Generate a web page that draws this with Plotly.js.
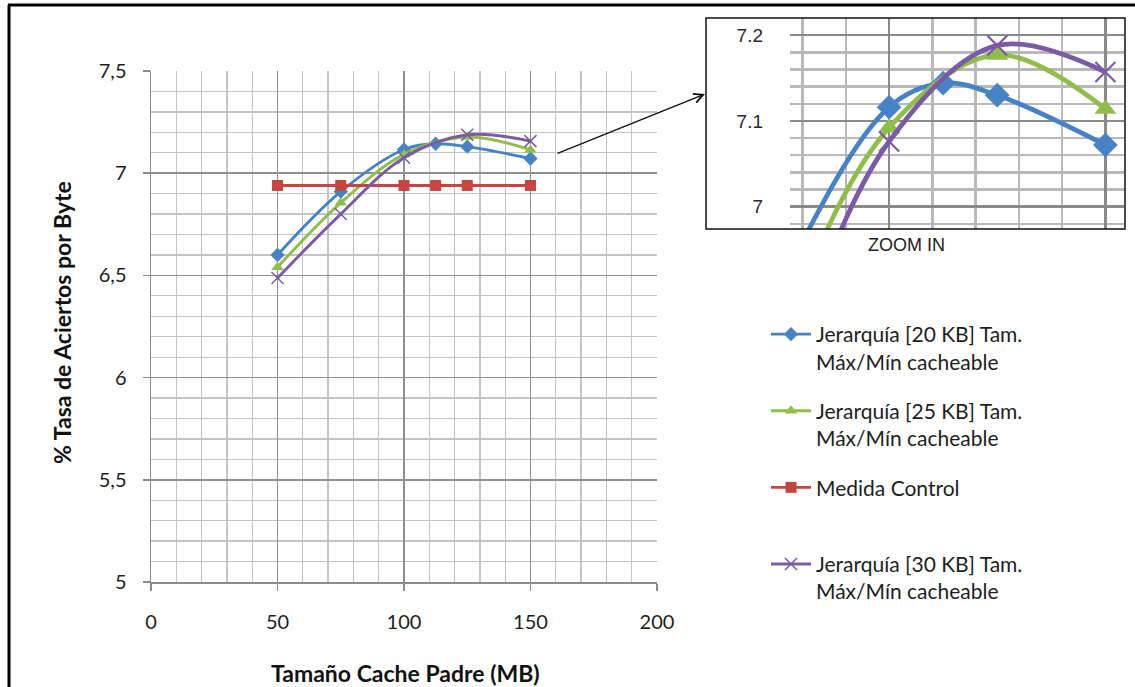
<!DOCTYPE html>
<html>
<head>
<meta charset="utf-8">
<script src="https://cdn.plot.ly/plotly-3.0.1.min.js"></script>
<style>
  html, body { margin: 0; padding: 0; background: #ffffff; }
  #chart { width: 1135px; height: 687px; }
</style>
</head>
<body>
<div id="chart"></div>
<script>
// Cache size of the parent proxy (MB)
const cacheMB = [50, 75, 100, 112.5, 125, 150];
const cacheMB5 = [50, 75, 100, 125, 150];

// Byte hit rate (%) per configuration
const hit20KB = [6.60, 6.91, 7.116, 7.144, 7.130, 7.072];
const hit25KB = [6.54, 6.855, 7.092, 7.177, 7.114];
const hitControl = [6.94, 6.94, 6.94, 6.94, 6.94, 6.94];
const hit30KB = [6.487, 6.80, 7.076, 7.188, 7.157];

const seriesNames = [
  'Jerarquía [20 KB] Tam.<br>Máx/Mín cacheable',
  'Jerarquía [25 KB] Tam.<br>Máx/Mín cacheable',
  'Medida Control<br> ',
  'Jerarquía [30 KB] Tam.<br>Máx/Mín cacheable'
];

// Tick labels
const xTickVals = [0, 50, 100, 150, 200];
const yTickVals = [5, 5.5, 6, 6.5, 7, 7.5];
const yTickText = ['5', '5,5', '6', '6,5', '7', '7,5'];
const zoomTickVals = [7, 7.1, 7.2];
const zoomTickText = ['7', '7.1', '7.2'];

const W = 1135, H = 687;
const px = v => v / W;          // pixel -> paper x
const py = v => 1 - v / H;      // pixel -> paper y

const BLUE = '#4683c6', GREEN = '#8fbf4a', RED = '#c4463f', PURPLE = '#7d5aa6';
const FONT = 'Lato, "Open Sans", sans-serif';
const ARIAL = '"Liberation Sans", Arial, sans-serif';

function series(x, y, name, color, symbol, axes, big) {
  const isX = symbol === 'x-thin-open';
  return {
    type: 'scatter', mode: 'lines+markers',
    x: x, y: y, name: name,
    xaxis: axes[0], yaxis: axes[1],
    showlegend: !big, legendgroup: name,
    line: { color: color, width: big ? 4.8 : 2.9, shape: color === RED ? 'linear' : 'spline', smoothing: 1 },
    marker: {
      symbol: symbol, color: color,
      size: big ? (isX ? 20 : 19) : (isX ? 12 : 11),
      line: { color: color, width: isX ? (big ? 2.2 : 1.5) : 0 }
    },
    cliponaxis: true, hoverinfo: 'skip'
  };
}

const data = [];
[['x', 'y', false], ['x2', 'y2', true]].forEach(([xa, ya, big]) => {
  data.push(series(cacheMB, hit20KB, seriesNames[0], BLUE, 'diamond', [xa, ya], big));
  data.push(series(cacheMB5, hit25KB, seriesNames[1], GREEN, 'triangle-up', [xa, ya], big));
  data.push(series(cacheMB, hitControl, seriesNames[2], RED, 'square', [xa, ya], big));
  data.push(series(cacheMB5, hit30KB, seriesNames[3], PURPLE, 'x-thin-open', [xa, ya], big));
});

const layout = {
  width: W, height: H,
  margin: { l: 0, r: 0, t: 0, b: 0 },
  paper_bgcolor: '#ffffff', plot_bgcolor: '#ffffff',
  font: { family: FONT, size: 20, color: '#1e1e1e' },
  showlegend: true,
  legend: {
    x: px(766), y: py(314), xanchor: 'left', yanchor: 'top',
    font: { family: FONT, size: 21, color: '#1e1e1e' },
    valign: 'top', tracegroupgap: 19, itemwidth: 40,
    bgcolor: 'rgba(0,0,0,0)'
  },
  xaxis: {
    domain: [px(151), px(657)], range: [0, 200], anchor: 'y',
    tickmode: 'array', tickvals: xTickVals,
    showgrid: true, gridcolor: '#8f8f8f', gridwidth: 1.5,
    minor: { dtick: 10, showgrid: true, gridcolor: '#c4c4c4', gridwidth: 1.3 },
    showline: true, linecolor: '#8a8a8a', linewidth: 1.5,
    ticks: 'outside', ticklen: 7, tickcolor: '#8a8a8a', tickwidth: 1.5,
    ticklabelstandoff: 14, zeroline: false,
    tickfont: { family: FONT, size: 20, color: '#1e1e1e' }
  },
  yaxis: {
    domain: [py(582), py(71)], range: [5, 7.5], anchor: 'x',
    tickmode: 'array', tickvals: yTickVals, ticktext: yTickText,
    showgrid: true, gridcolor: '#8f8f8f', gridwidth: 1.5,
    minor: { dtick: 0.1, showgrid: true, gridcolor: '#c4c4c4', gridwidth: 1.3 },
    showline: true, linecolor: '#8a8a8a', linewidth: 1.5,
    ticks: 'outside', ticklen: 7, tickcolor: '#8a8a8a', tickwidth: 1.5,
    ticklabelstandoff: 12, zeroline: false,
    tickfont: { family: FONT, size: 20, color: '#1e1e1e' }
  },
  // magnified view of the peak region
  xaxis2: {
    domain: [px(790), px(1124)], range: [77.1, 154.3], anchor: 'y2',
    tickmode: 'linear', tick0: 0, dtick: 50, showticklabels: false, ticks: '',
    showgrid: true, gridcolor: '#8a8a8a', gridwidth: 2.5,
    minor: { dtick: 10, showgrid: true, gridcolor: '#b9b9b9', gridwidth: 2.5 },
    showline: false, zeroline: false
  },
  yaxis2: {
    domain: [py(229), py(18)], range: [6.974, 7.22], anchor: 'x2',
    tickmode: 'array', tickvals: zoomTickVals, ticktext: zoomTickText,
    showgrid: true, gridcolor: '#8a8a8a', gridwidth: 2.5,
    minor: { dtick: 0.02, showgrid: true, gridcolor: '#b9b9b9', gridwidth: 2.5 },
    ticks: '', ticklabelstandoff: 26, showline: false, zeroline: false,
    tickfont: { family: ARIAL, size: 19, color: '#2a2a2a' }
  },
  shapes: [
    // frame around the magnified view
    { type: 'rect', xref: 'paper', yref: 'paper', x0: px(706), x1: px(1125), y0: py(229), y1: py(18),
      line: { color: '#111111', width: 1.5 }, fillcolor: 'rgba(0,0,0,0)', layer: 'above' },
    // outer border (top and left edges)
    { type: 'line', xref: 'paper', yref: 'paper', x0: px(8), x1: 1, y0: py(5), y1: py(5),
      line: { color: '#000000', width: 3 } },
    { type: 'line', xref: 'paper', yref: 'paper', x0: px(9), x1: px(9), y0: py(5), y1: 0,
      line: { color: '#000000', width: 3 } }
  ],
  annotations: [
    { text: '<b>% Tasa de Aciertos por Byte</b>', xref: 'paper', yref: 'paper',
      x: px(62), y: py(323), textangle: -90, showarrow: false,
      font: { family: FONT, size: 23, color: '#111111' }, xanchor: 'center', yanchor: 'middle' },
    { text: '<b>Tamaño Cache Padre (MB)</b>', xref: 'paper', yref: 'paper',
      x: px(405), y: py(673), showarrow: false,
      font: { family: FONT, size: 23, color: '#111111' }, xanchor: 'center', yanchor: 'middle' },
    { text: 'ZOOM IN', xref: 'paper', yref: 'paper',
      x: px(907), y: py(245), showarrow: false,
      font: { family: ARIAL, size: 18, color: '#222222' }, xanchor: 'center', yanchor: 'middle' },
    // pointer from the curves' peak to the magnified view
    { text: '', xref: 'paper', yref: 'paper', x: px(705), y: py(94),
      ax: 556 - 705, ay: 154 - 94, axref: 'pixel', ayref: 'pixel',
      showarrow: true, arrowhead: 5, arrowsize: 1.3, arrowwidth: 1.4, arrowcolor: '#111111', standoff: 0 }
  ]
};

Plotly.newPlot('chart', data, layout, { staticPlot: true, displayModeBar: false });
</script>
</body>
</html>
